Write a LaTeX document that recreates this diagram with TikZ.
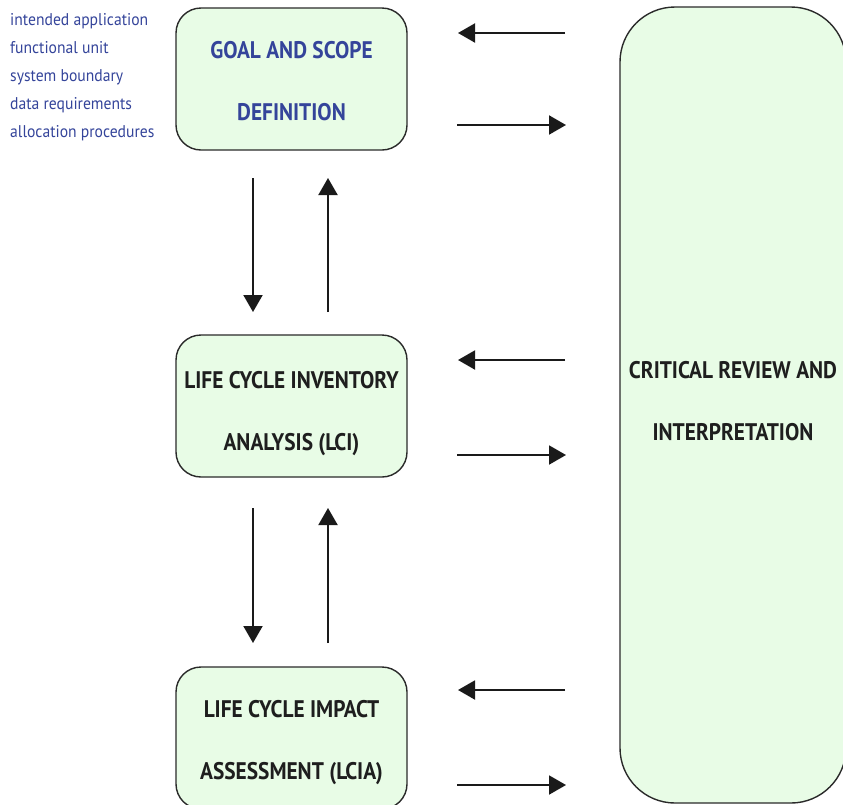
\documentclass[tikz,border=0pt]{standalone}
\usepackage{fontspec}
\setmainfont{PT Sans}
\newfontfamily\headfont[FakeStretch=0.89]{PT Sans}
\newfontfamily\listfont[FakeStretch=0.92]{PT Sans}
\usetikzlibrary{arrows.meta}

\definecolor{boxfill}{HTML}{E8FCE6}
\definecolor{boxline}{HTML}{2A2A2A}
\definecolor{headtext}{HTML}{1E1E1E}
\definecolor{bluetext}{HTML}{34449A}
\definecolor{arrowcol}{HTML}{1A1A1A}

\tikzset{
  stagebox/.style={draw=boxline, line width=1.4pt, fill=boxfill,
    rounded corners=25pt, minimum width=231pt, minimum height=142pt,
    inner sep=0pt},
  reviewbox/.style={stagebox, rounded corners=55pt,
    minimum width=226pt, minimum height=796pt},
  heading/.style={inner sep=0pt, align=center, text=headtext,
    font=\headfont\bfseries\fontsize{24}{62}\selectfont},
  flow/.style={-{Triangle[length=17pt,width=19pt]}, line width=2pt, draw=arrowcol},
  notes/.style={anchor=north west, inner sep=0pt, align=left, text=bluetext,
    font=\listfont\fontsize{17}{28}\selectfont}
}

\begin{document}
\begin{tikzpicture}[x=1pt, y=-1pt]
  \useasboundingbox (0,0) rectangle (843,804);

  % the three stages and the review column
  \node[stagebox] (goal) at (291.5,79) {};
  \node[stagebox] (lci) at (291.5,406) {};
  \node[stagebox] (lcia) at (291.5,738) {};
  \node[reviewbox] (crit) at (733,405) {};

  % their titles
  \node[heading, text=bluetext] (goal-title) at ([yshift=-2.5pt]goal.center) {GOAL AND SCOPE\\DEFINITION};
  \node[heading] (lci-title) at ([yshift=-8pt]lci.center) {LIFE CYCLE INVENTORY\\ANALYSIS (LCI)};
  \node[heading] (lcia-title) at ([yshift=-5pt]lcia.center) {LIFE CYCLE IMPACT\\ASSESSMENT (LCIA)};
  \node[heading] (crit-title) at ([yshift=3.5pt]crit.center) {CRITICAL REVIEW AND\\INTERPRETATION};

  % items covered by the goal and scope
  \node[notes] (items) at (10,13.5) {intended application\\functional unit\\system boundary\\data requirements\\allocation procedures};

  % arrow end points between the stages
  \coordinate (g1) at (253,178); \coordinate (l1) at (253,312);
  \coordinate (g2) at (328,178); \coordinate (l2) at (328,312);
  \coordinate (i1) at (253,508); \coordinate (a1) at (253,643);
  \coordinate (i2) at (328,508); \coordinate (a2) at (328,643);

  \draw[flow] (g1) -- (l1);
  \draw[flow] (l2) -- (g2);
  \draw[flow] (i1) -- (a1);
  \draw[flow] (a2) -- (i2);

  % exchanges with the review column
  \foreach \n/\yin/\yout in {goal/33/125, lci/360/455, lcia/690/785}{
    \coordinate (\n-rin) at (565,\yin);
    \coordinate (\n-lin) at (458,\yin);
    \coordinate (\n-lout) at (457,\yout);
    \coordinate (\n-rout) at (566,\yout);
    \draw[flow] (\n-rin) -- (\n-lin);
    \draw[flow] (\n-lout) -- (\n-rout);
  }
\end{tikzpicture}
\end{document}
